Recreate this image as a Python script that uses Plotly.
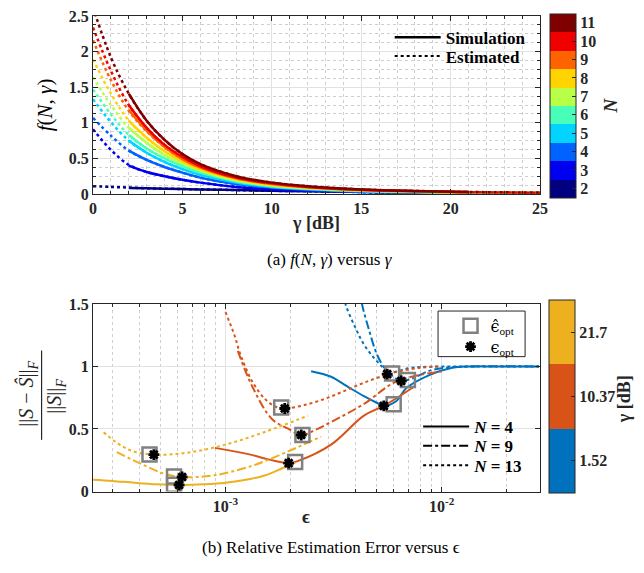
import plotly.graph_objects as go

W, H = 644, 573
def px(x): return x / W
def py(y): return 1 - y / H

# ---------------- data: top panel ----------------
N_values = [2, 3, 4, 5, 6, 7, 8, 9, 10, 11]
gamma_est = [0, 1, 2, 3, 4, 5, 6, 8, 10, 12, 15, 20, 25]
f_est = [
    [0.11, 0.10, 0.09, 0.08, 0.075, 0.07, 0.065, 0.055, 0.045, 0.04, 0.03, 0.02, 0.015],
    [0.91, 0.62, 0.41, 0.31, 0.25, 0.20, 0.16, 0.10, 0.065, 0.045, 0.028, 0.015, 0.010],
    [1.07, 0.82, 0.61, 0.48, 0.38, 0.30, 0.23, 0.14, 0.09, 0.06, 0.035, 0.018, 0.012],
    [1.33, 1.01, 0.75, 0.58, 0.45, 0.35, 0.27, 0.16, 0.10, 0.07, 0.040, 0.020, 0.013],
    [1.47, 1.12, 0.83, 0.64, 0.50, 0.39, 0.30, 0.18, 0.11, 0.075, 0.045, 0.022, 0.014],
    [1.64, 1.25, 0.93, 0.72, 0.55, 0.43, 0.33, 0.19, 0.12, 0.08, 0.048, 0.024, 0.015],
    [1.89, 1.41, 1.03, 0.79, 0.60, 0.46, 0.35, 0.21, 0.13, 0.09, 0.050, 0.026, 0.016],
    [2.16, 1.60, 1.17, 0.88, 0.66, 0.49, 0.37, 0.22, 0.14, 0.095, 0.055, 0.028, 0.017],
    [2.34, 1.73, 1.25, 0.93, 0.69, 0.52, 0.39, 0.23, 0.15, 0.10, 0.060, 0.030, 0.018],
    [2.62, 1.92, 1.41, 1.03, 0.76, 0.56, 0.42, 0.25, 0.16, 0.11, 0.065, 0.033, 0.020],
]
gamma_sim = [2, 3, 4, 5, 6, 8, 10, 12, 15, 20, 21]
f_sim = [
    [0.085, 0.08, 0.075, 0.07, 0.065, 0.055, 0.045, 0.04, 0.03, 0.02, 0.019],
    [0.40, 0.31, 0.25, 0.20, 0.16, 0.10, 0.065, 0.045, 0.028, 0.015, 0.014],
    [0.61, 0.48, 0.38, 0.30, 0.23, 0.14, 0.09, 0.06, 0.035, 0.018, 0.016],
    [0.75, 0.58, 0.45, 0.35, 0.27, 0.16, 0.10, 0.07, 0.040, 0.020, 0.018],
    [0.83, 0.64, 0.50, 0.39, 0.30, 0.18, 0.11, 0.075, 0.045, 0.022, 0.020],
    [0.93, 0.72, 0.55, 0.43, 0.33, 0.19, 0.12, 0.08, 0.048, 0.024, 0.021],
    [1.03, 0.79, 0.60, 0.46, 0.35, 0.21, 0.13, 0.09, 0.050, 0.026, 0.023],
    [1.18, 0.89, 0.66, 0.49, 0.37, 0.22, 0.14, 0.095, 0.055, 0.028, 0.025],
    [1.25, 0.93, 0.69, 0.52, 0.39, 0.23, 0.15, 0.10, 0.060, 0.030, 0.027],
    [1.41, 1.03, 0.76, 0.56, 0.42, 0.25, 0.16, 0.11, 0.065, 0.033, 0.029],
]
top_xticks = [0, 5, 10, 15, 20, 25]
top_yticks = [0, 0.5, 1, 1.5, 2, 2.5]
top_yticktext = ["0", "0.5", "1", "1.5", "2", "2.5"]

# ---------------- data: bottom panel ----------------
gamma_labels = ["1.52", "10.37", "21.7"]
N_labels = ["4", "9", "13"]

eps_g1_n4 = [2.49e-3, 3.08e-3, 3.66e-3, 4.37e-3, 5.01e-3, 5.4e-3, 6.18e-3, 6.87e-3, 8.77e-3, 1.12e-2, 1.33e-2, 1.8e-2, 2.82e-2]
err_g1_n4 = [0.962, 0.918, 0.84, 0.763, 0.71, 0.686, 0.724, 0.827, 0.931, 0.99, 1.0, 1.0, 1.0]
eps_g1_n9 = [4.15e-3, 4.28e-3, 4.59e-3, 5.01e-3, 5.47e-3, 5.98e-3, 6.5e-3, 7.35e-3, 8.7e-3, 1.04e-2, 1.4e-2, 2.82e-2]
err_g1_n9 = [1.65, 1.5, 1.306, 1.1, 0.982, 0.918, 0.884, 0.905, 0.964, 0.99, 1.0, 1.0]
eps_g1_n13 = [3.45e-3, 3.59e-3, 4.0e-3, 4.37e-3, 4.84e-3, 5.28e-3, 5.6e-3, 6.2e-3, 7.0e-3, 8.0e-3, 1.0e-2, 1.5e-2, 2.82e-2]
err_g1_n13 = [1.65, 1.5, 1.306, 1.176, 1.073, 1.0, 0.945, 0.96, 0.985, 0.995, 1.0, 1.0, 1.0]

eps_g2_n4 = [8.93e-4, 1.29e-3, 1.6e-3, 1.96e-3, 2.17e-3, 3.08e-3, 4.37e-3, 5.4e-3, 7.48e-3]
err_g2_n4 = [0.349, 0.297, 0.255, 0.227, 0.245, 0.375, 0.607, 0.685, 0.84]
eps_g2_n9 = [1.14e-3, 1.33e-3, 1.64e-3, 1.96e-3, 2.24e-3, 2.59e-3, 3.08e-3, 4.37e-3, 6.18e-3, 1.0e-2]
err_g2_n9 = [1.125, 0.84, 0.58, 0.5, 0.452, 0.491, 0.556, 0.70, 0.88, 0.96]
eps_g2_n13 = [1.0e-3, 1.1e-3, 1.17e-3, 1.33e-3, 1.53e-3, 1.7e-3, 1.88e-3, 2.3e-3, 2.87e-3, 3.5e-3, 4.37e-3, 5.98e-3, 8.0e-3, 1.0e-2]
err_g2_n13 = [1.435, 1.25, 1.1, 0.88, 0.737, 0.68, 0.664, 0.69, 0.74, 0.80, 0.87, 0.95, 0.99, 1.0]

eps_g3_n4 = [2.44e-4, 3.0e-4, 3.8e-4, 4.8e-4, 6.1e-4, 8.0e-4, 1.0e-3, 1.3e-3, 1.53e-3, 1.8e-3, 2.1e-3]
err_g3_n4 = [0.095, 0.085, 0.07, 0.058, 0.052, 0.058, 0.07, 0.10, 0.13, 0.18, 0.23]
eps_g3_n9 = [3.14e-4, 4.08e-4, 5.21e-4, 6.3e-4, 8.8e-4, 1.33e-3, 1.96e-3, 2.77e-3]
err_g3_n9 = [0.315, 0.22, 0.142, 0.116, 0.129, 0.206, 0.323, 0.439]
eps_g3_n13 = [2.73e-4, 3.55e-4, 4.66e-4, 6.65e-4, 1.0e-3, 1.53e-3, 2.41e-3]
err_g3_n13 = [0.473, 0.336, 0.295, 0.31, 0.375, 0.478, 0.607]

eps_hat_opt_x = [4.45e-4, 5.78e-4, 5.78e-4, 1.81e-3, 2.27e-3, 2.1e-3, 5.9e-3, 6.98e-3, 6.0e-3]
eps_hat_opt_y = [0.297, 0.12, 0.055, 0.672, 0.452, 0.237, 0.943, 0.892, 0.698]
eps_opt_x = [4.66e-4, 6.3e-4, 6.1e-4, 1.88e-3, 2.24e-3, 1.96e-3, 5.6e-3, 6.5e-3, 5.4e-3]
eps_opt_y = [0.295, 0.116, 0.052, 0.664, 0.452, 0.227, 0.939, 0.884, 0.685]

bot_xticks = [1e-3, 1e-2]
bot_xticktext = ["10<sup>-3</sup>", "10<sup>-2</sup>"]
bot_xminor = [3e-4, 4e-4, 5e-4, 6e-4, 7e-4, 8e-4, 9e-4,
              2e-3, 3e-3, 4e-3, 5e-3, 6e-3, 7e-3, 8e-3, 9e-3, 2e-2]
bot_yticks = [0, 0.5, 1, 1.5]
bot_yticktext = ["0", "0.5", "1", "1.5"]

# ---------------- styles ----------------
jet10 = ['#000080', '#0000F1', '#0063FF', '#00D4FF', '#47FFB8',
         '#B8FF47', '#FFD400', '#FF6300', '#F10000', '#800000']
gam_colors = ['#0072BD', '#D95319', '#EDB120']
dashes = ['solid', 'dashdot', 'dot']
SERIF = "Liberation Serif, Times New Roman, serif"
AX = '#262626'

fig = go.Figure()

for i, n in enumerate(N_values):
    fig.add_trace(go.Scatter(x=gamma_est, y=f_est[i], mode='lines',
                             line=dict(color=jet10[i], width=2.5, dash='dot', shape='spline'),
                             showlegend=False, xaxis='x', yaxis='y', hoverinfo='skip'))
for i, n in enumerate(N_values):
    fig.add_trace(go.Scatter(x=gamma_sim, y=f_sim[i], mode='lines',
                             line=dict(color=jet10[i], width=2.5, dash='solid', shape='spline'),
                             showlegend=False, xaxis='x', yaxis='y', hoverinfo='skip'))
fig.add_trace(go.Scatter(x=[None], y=[None], mode='lines', name='Simulation',
                         line=dict(color='black', width=2.5), legend='legend', xaxis='x', yaxis='y'))
fig.add_trace(go.Scatter(x=[None], y=[None], mode='lines', name='Estimated',
                         line=dict(color='black', width=2, dash='dot'), legend='legend2', xaxis='x', yaxis='y'))
fig.add_trace(go.Scatter(x=[None], y=[None], mode='markers',
                         marker=dict(color=[N_values[0]], coloraxis='coloraxis'),
                         showlegend=False, xaxis='x', yaxis='y'))

curves = [
    [(eps_g1_n4, err_g1_n4), (eps_g1_n9, err_g1_n9), (eps_g1_n13, err_g1_n13)],
    [(eps_g2_n4, err_g2_n4), (eps_g2_n9, err_g2_n9), (eps_g2_n13, err_g2_n13)],
    [(eps_g3_n4, err_g3_n4), (eps_g3_n9, err_g3_n9), (eps_g3_n13, err_g3_n13)],
]
for gi, row in enumerate(curves):
    for ni, (ex, ey) in enumerate(row):
        fig.add_trace(go.Scatter(x=ex, y=ey, mode='lines',
                                 line=dict(color=gam_colors[gi], width=2, dash=dashes[ni], shape='spline'),
                                 showlegend=False, xaxis='x2', yaxis='y2', hoverinfo='skip'))

fig.add_trace(go.Scatter(x=eps_hat_opt_x, y=eps_hat_opt_y, mode='markers',
                         name='<span style="font-family:DejaVu Serif">ϵ̂</span><sub>opt</sub>',
                         legend='legend3',
                         marker=dict(symbol='square-open', size=14, color='#808080',
                                     line=dict(width=2.5, color='#808080')),
                         xaxis='x2', yaxis='y2'))
fig.add_trace(go.Scatter(x=eps_opt_x, y=eps_opt_y, mode='markers',
                         name='<span style="font-family:DejaVu Serif">ϵ</span><sub>opt</sub>',
                         legend='legend7',
                         marker=dict(symbol='asterisk', size=9, color='black',
                                     line=dict(width=2.8, color='black')),
                         xaxis='x2', yaxis='y2'))
for ni, lab in enumerate(N_labels):
    fig.add_trace(go.Scatter(x=[None], y=[None], mode='lines',
                             name='<i>N</i> = ' + lab, legend='legend%d' % (4 + ni),
                             line=dict(color='black', width=2, dash=dashes[ni]),
                             xaxis='x2', yaxis='y2'))
fig.add_trace(go.Scatter(x=[None], y=[None], mode='markers',
                         marker=dict(color=[0.5], coloraxis='coloraxis2'),
                         showlegend=False, xaxis='x2', yaxis='y2'))

tickfont = dict(family=SERIF, size=16, color=AX, weight='bold')
common = dict(showline=True, linecolor=AX, linewidth=1, mirror='ticks', ticks='inside',
              ticklen=5, tickcolor=AX, tickfont=tickfont, zeroline=False,
              showgrid=True, gridcolor='#e2e2e2', gridwidth=1)

cs1 = []
for i, c in enumerate(jet10):
    cs1 += [[i / 10, c], [(i + 1) / 10, c]]
cs2 = []
for i, c in enumerate(gam_colors):
    cs2 += [[i / 3, c], [(i + 1) / 3, c]]

legfont_b = dict(family=SERIF, size=17, color='black', weight='bold')
legfont_r = dict(family=SERIF, size=16, color='black')
def simple_leg(x, y, font, iw=46):
    return dict(x=x, y=y, xanchor='left', yanchor='middle', bgcolor='rgba(0,0,0,0)',
                borderwidth=0, font=font, itemwidth=iw, tracegroupgap=0)

fig.update_layout(
    width=W, height=H, margin=dict(l=0, r=0, t=0, b=0),
    paper_bgcolor='white', plot_bgcolor='white',
    font=dict(family=SERIF, color=AX),
    xaxis=dict(domain=[px(90.7), px(546.3)], range=[0, 25], tickvals=top_xticks,
               anchor='y',
               minor=dict(dtick=1, showgrid=True, gridcolor='#cfcfcf', griddash='dot',
                          ticks='inside', ticklen=3, tickcolor=AX), **common),
    yaxis=dict(domain=[py(191.7), py(8.3)], range=[0, 2.5], tickvals=top_yticks,
               ticktext=top_yticktext, anchor='x',
               minor=dict(dtick=0.125, showgrid=True, gridcolor='#cfcfcf', griddash='dot',
                          ticks='inside', ticklen=3, tickcolor=AX), **common),
    xaxis2=dict(domain=[px(90.7), px(545.7)], type='log', range=[-3.613, -1.547],
                tickvals=bot_xticks, ticktext=bot_xticktext, anchor='y2',
                minor=dict(tickvals=bot_xminor, showgrid=True, gridcolor='#cfcfcf',
                           griddash='dot', ticks='inside', ticklen=3, tickcolor=AX), **common),
    yaxis2=dict(domain=[py(498.3), py(305)], range=[0, 1.5], tickvals=bot_yticks,
                ticktext=bot_yticktext, anchor='x2', **common),
    coloraxis=dict(colorscale=cs1, cmin=1.5, cmax=11.5,
                   colorbar=dict(x=px(556.7), xanchor='left', xpad=0, y=py(100.5), yanchor='middle',
                                 ypad=0, len=184.4, lenmode='pixels', thickness=26,
                                 tickvals=N_values, ticks='inside', ticklen=4, tickcolor=AX,
                                 tickfont=tickfont, outlinewidth=1, outlinecolor=AX)),
    coloraxis2=dict(colorscale=cs2, cmin=0, cmax=3,
                    colorbar=dict(x=px(555), xanchor='left', xpad=0, y=py(400.35), yanchor='middle',
                                  ypad=0, len=192.7, lenmode='pixels', thickness=26,
                                  tickvals=[0.5, 1.5, 2.5], ticktext=gamma_labels,
                                  ticks='inside', ticklen=4, tickcolor=AX,
                                  tickfont=tickfont, outlinewidth=1, outlinecolor=AX)),
    legend=simple_leg(px(393), py(30.7), legfont_b),
    legend2=simple_leg(px(393), py(50), legfont_b),
    legend3=simple_leg(px(455), py(327.5), legfont_r, 30),
    legend7=simple_leg(px(455), py(349), legfont_r, 30),
    legend4=simple_leg(px(422), py(431.7), legfont_b),
    legend5=simple_leg(px(422), py(451.7), legfont_b),
    legend6=simple_leg(px(422), py(471.7), legfont_b),
)

ann = []
def A(x, y, text, size, angle=0, weight='normal', color='black'):
    ann.append(dict(x=px(x), y=py(y), xref='paper', yref='paper', text=text, showarrow=False,
                    xanchor='center', yanchor='middle', textangle=angle,
                    font=dict(family=SERIF, size=size, color=color, weight=weight)))

A(42, 100, '<i>f</i>(<i>N</i>, <i>γ</i>)', 21, -90)
A(318, 222, 'γ [dB]', 18, 0, 'bold', AX)
A(332, 259, '(a) <i>f</i>(<i>N</i>, <i>γ</i>) versus <i>γ</i>', 17)
A(618, 100, '<i>N</i>', 19, -90, 'bold', AX)
A(24, 398, '||<i>S</i> − <i>Ŝ</i>||<sub><i>F</i></sub>', 20, -90, 'normal', AX)
A(52.5, 400, '||<i>S</i>||<sub><i>F</i></sub>', 20, -90, 'normal', AX)
A(308, 524, 'ϵ', 19, 0, 'bold', AX)
A(333, 556, '(b) Relative Estimation Error versus ϵ', 17)
A(632, 403, 'γ [dB]', 18, -90, 'bold', AX)
fig.update_layout(annotations=ann)
fig.add_shape(type='line', xref='paper', yref='paper', x0=px(38.3), x1=px(38.3),
              y0=py(353), y1=py(445), line=dict(color=AX, width=1.2))
fig.add_shape(type='rect', xref='paper', yref='paper', x0=px(442.3), x1=px(531),
              y0=py(359.3), y1=py(312.3), line=dict(color=AX, width=1), fillcolor='white',
              layer='above')

fig.write_html("out.html")
